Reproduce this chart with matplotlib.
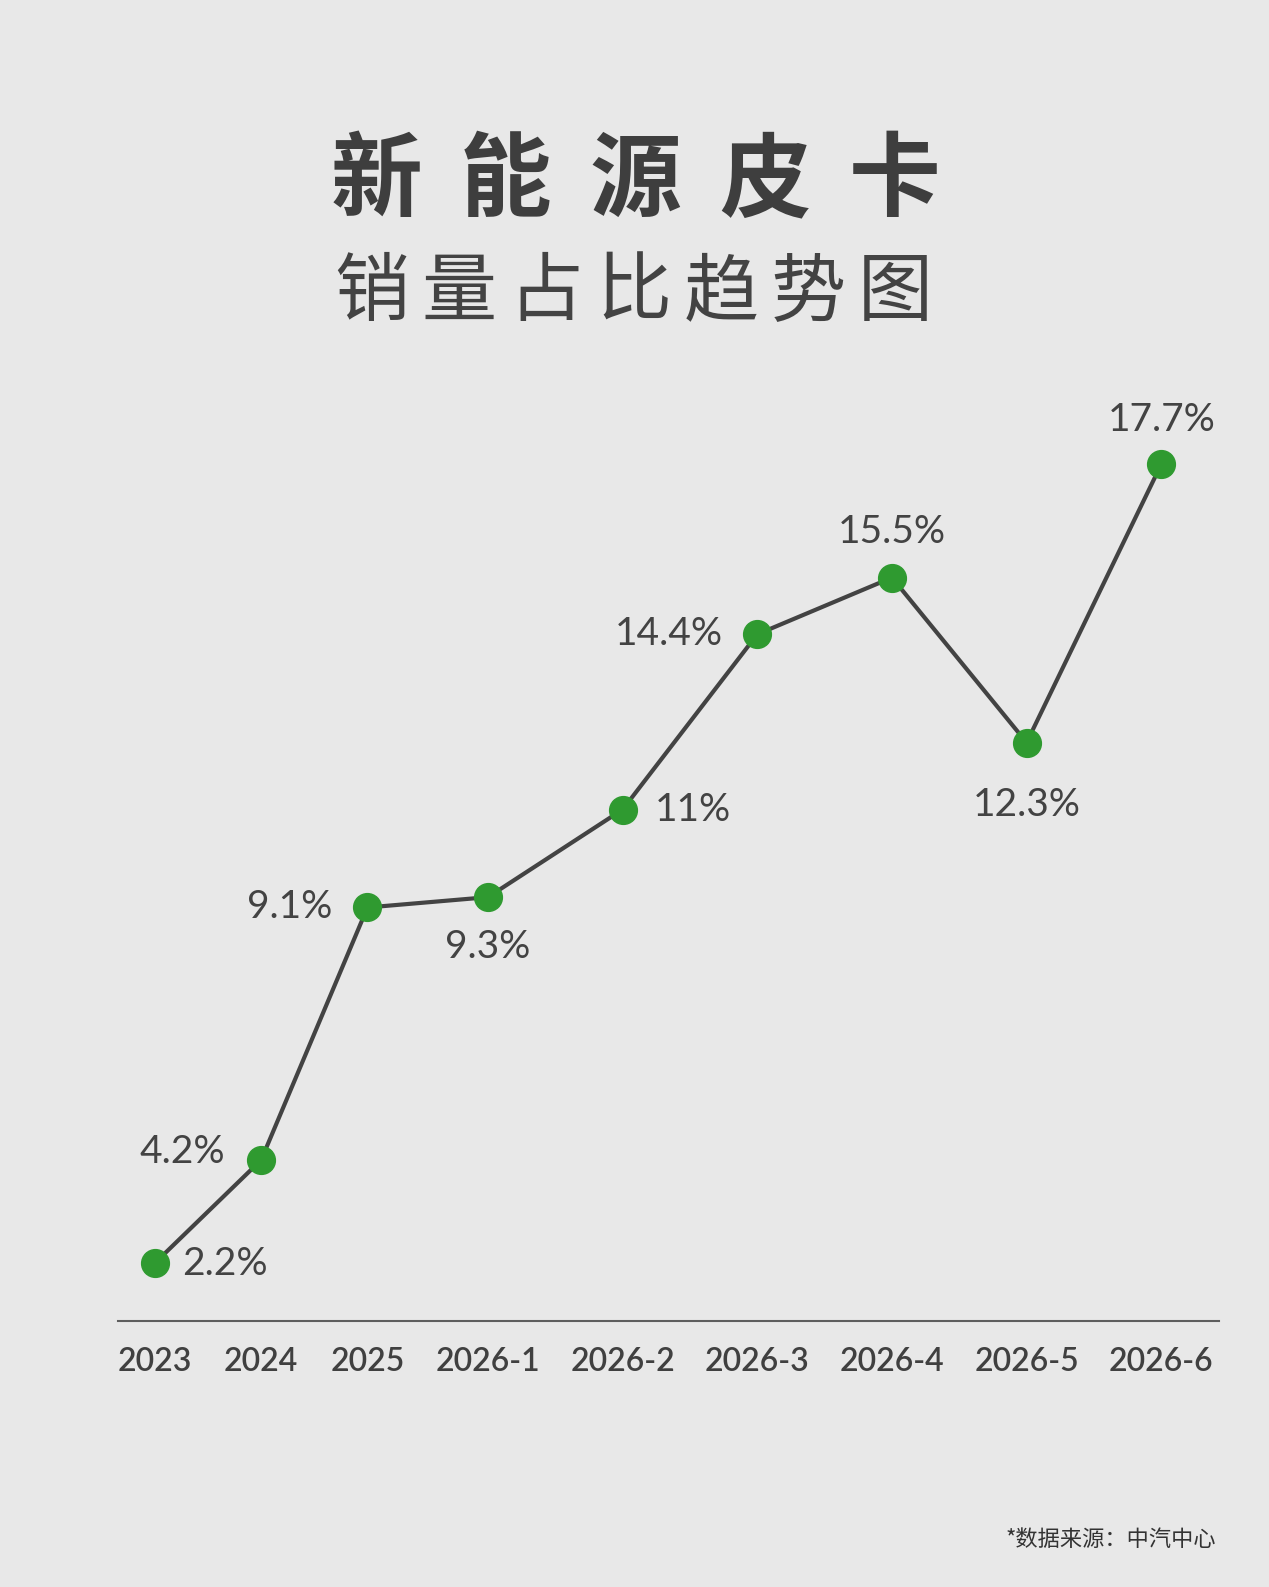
import numpy as np
import matplotlib.pyplot as plt

# --- data ---
categories = ["2023", "2024", "2025", "2026-1", "2026-2", "2026-3", "2026-4", "2026-5", "2026-6"]
share_pct = [2.2, 4.2, 9.1, 9.3, 11.0, 14.4, 15.5, 12.3, 17.7]
value_labels = ["2.2%", "4.2%", "9.1%", "9.3%", "11%", "14.4%", "15.5%", "12.3%", "17.7%"]

title_main = "新能源皮卡"
title_sub = "销量占比趋势图"
source_note = "*数据来源：中汽中心"

# where each value label sits relative to its point (offset in points)
label_offsets = [(20, -1), (-26, 6), (-25, 0), (0, -36), (23, 0), (-25, 0), (0, 33), (0, -45), (0, 32)]

BG = "#e8e8e8"
LINE = "#434343"
GREEN = "#2f9a30"
TEXT = "#434343"

W, H = 1254, 1568  # reference pixel grid used for layout


def fx(px):
    return px / W


def fy(py):
    return 1 - py / H


plt.rcParams["font.family"] = ["Noto Sans CJK SC", "DejaVu Sans"]

fig = plt.figure(figsize=(12.69, 15.87), dpi=100, facecolor=BG)

# category positions: labels laid out in a row with an equal gap between them
lens = np.array([len(c) for c in categories], dtype=float)
steps = (lens[:-1] + lens[1:]) / 2 + 3.5
x_pos = np.concatenate([[0], np.cumsum(steps)])

ax = fig.add_axes([fx(117), fy(1305), fx(1205) - fx(117), fy(367) - fy(1305)])
ax.set_facecolor(BG)
ax.plot(x_pos, share_pct, color=LINE, lw=3.0, zorder=2, solid_capstyle="round")
ax.plot(x_pos, share_pct, "o", ms=20, color=GREEN, mec=GREEN, zorder=3)

for x, y, txt, off in zip(x_pos, share_pct, value_labels, label_offsets):
    ha = "left" if off[0] > 0 else ("right" if off[0] < 0 else "center")
    ax.annotate(txt, (x, y), xytext=off, textcoords="offset points",
                ha=ha, va="center", fontsize=28, color=TEXT,
                family=["Lato", "DejaVu Sans"], fontweight="normal")

ax.set_xlim(-2.57, x_pos[-1] + 4.1)
ax.set_ylim(1.08, 19.5)
ax.set_yticks([])
ax.set_xticks(x_pos)
ax.set_xticklabels(categories, fontsize=23, color="#404040",
                   family=["Lato", "DejaVu Sans"], fontweight="semibold")
ax.tick_params(axis="x", length=0, pad=19)
for side in ["top", "right", "left"]:
    ax.spines[side].set_visible(False)
ax.spines["bottom"].set_color("#5e5e5e")
ax.spines["bottom"].set_linewidth(1.5)

# title, one character at a time for the wide letter spacing
for i, ch in enumerate(title_main):
    fig.text(fx(372 + i * 128), fy(180), ch, ha="center", va="center",
             fontsize=66, fontweight="heavy", color="#3e3e3e")
for i, ch in enumerate(title_sub):
    fig.text(fx(367 + i * 86.3), fy(290), ch, ha="center", va="center",
             fontsize=54, fontweight="normal", color=TEXT)

fig.text(fx(1202), fy(1521), source_note, ha="right", va="center",
         fontsize=16, color="#333333", fontweight="light")

fig.savefig("out.png", dpi=100, facecolor=BG)
